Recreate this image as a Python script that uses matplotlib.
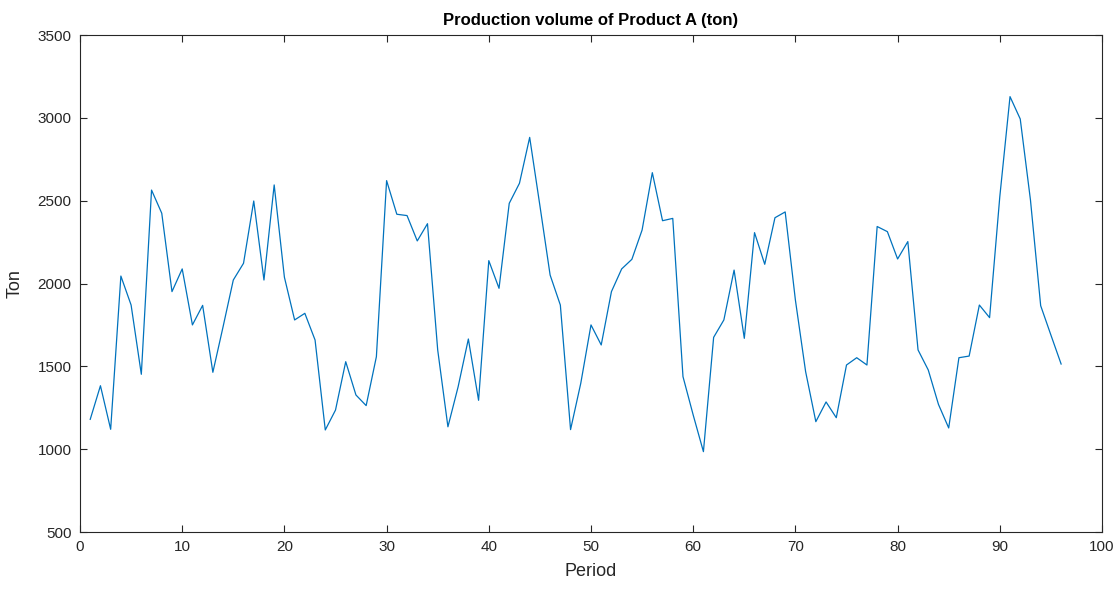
import matplotlib
matplotlib.use("Agg")
import matplotlib.pyplot as plt

# Production volume per period (ton)
period = list(range(1, 97))
volume = [
    1180, 1383, 1120, 2045, 1870, 1452, 2564, 2424, 1951, 2088,
    1750, 1868, 1464, 1739, 2021, 2122, 2498, 2021, 2595, 2038,
    1780, 1820, 1659, 1116, 1236, 1528, 1327, 1263, 1558, 2621,
    2418, 2410, 2257, 2361, 1599, 1135, 1377, 1665, 1295, 2138,
    1971, 2484, 2605, 2882, 2470, 2051, 1870, 1118, 1398, 1750,
    1629, 1951, 2088, 2146, 2323, 2669, 2379, 2393, 1438, 1206,
    985, 1675, 1780, 2081, 1669, 2307, 2116, 2397, 2432, 1900,
    1468, 1166, 1285, 1190, 1508, 1552, 1508, 2344, 2313, 2148,
    2253, 1599, 1478, 1270, 1128, 1552, 1562, 1870, 1794, 2524,
    3128, 2993, 2504, 1866, 1689, 1514,
]

plt.rcParams['font.family'] = ['Liberation Sans', 'DejaVu Sans']

fig = plt.figure(figsize=(11.18, 5.94), dpi=100)
ax = fig.add_axes([80 / 1118, 62 / 594, 1022 / 1118, 497 / 594])

ax.plot(period, volume, color='#0072BD', linewidth=0.9)

ax.set_xlim(0, 100)
ax.set_ylim(500, 3500)
ax.set_xticks(range(0, 101, 10))
ax.set_yticks(range(500, 3501, 500))

# MATLAB-like box with inward ticks on all sides
ax.tick_params(direction='in', top=True, right=True, length=5, width=0.8,
               labelsize=11, colors='#262626', pad=6)
for s in ax.spines.values():
    s.set_color('#262626')
    s.set_linewidth(0.8)

ax.set_xlabel('Period', fontsize=13, color='#262626', labelpad=6)
ax.set_ylabel('Ton', fontsize=13, color='#262626', labelpad=10)
ax.set_title('Production volume of Product A (ton)', fontsize=12,
             fontweight='bold', color='black', pad=7)

fig.savefig('out.png', dpi=100)
